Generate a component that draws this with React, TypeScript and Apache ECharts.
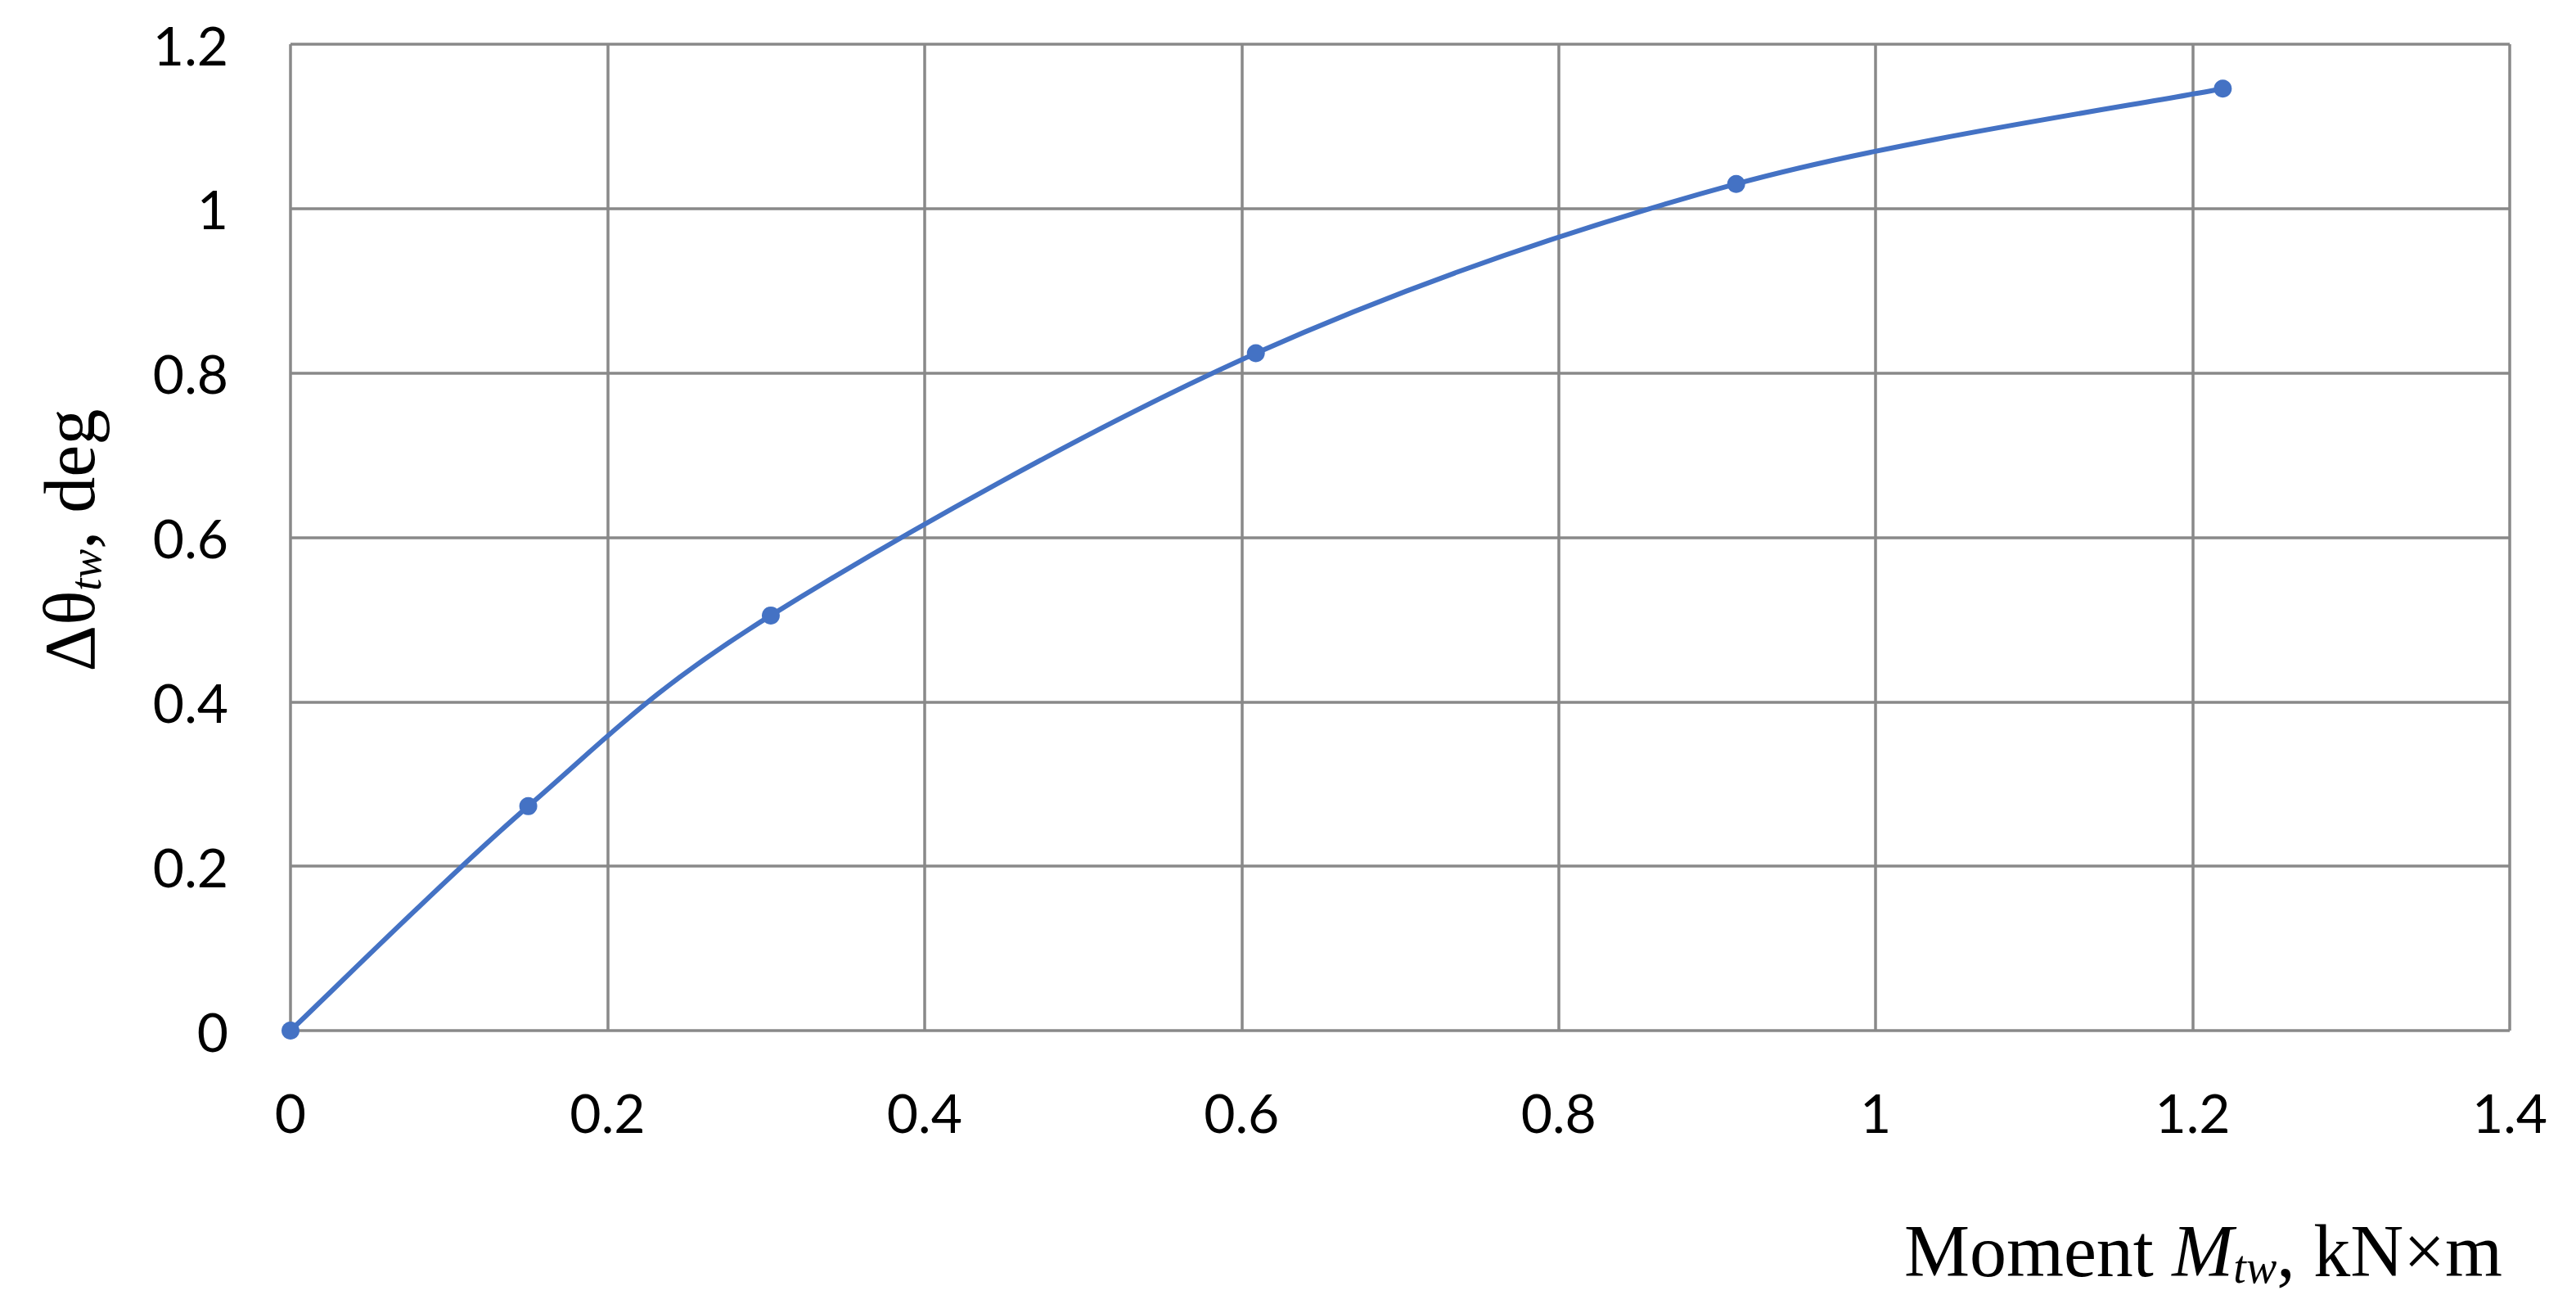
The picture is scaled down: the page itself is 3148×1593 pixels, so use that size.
import React, { useEffect, useRef } from "react";
import * as echarts from "echarts";

const momentValues = [0, 0.15, 0.303, 0.609, 0.912, 1.219];
const angleValues = [0, 0.273, 0.505, 0.824, 1.03, 1.146];
const xTicks = { min: 0, max: 1.4, interval: 0.2 };
const yTicks = { min: 0, max: 1.2, interval: 0.2 };

const LINE_COLOR = "#4472C4";

export default function App() {
  const ref = useRef<HTMLDivElement>(null);
  useEffect(() => {
    if (!ref.current) return;
    const chart = echarts.init(ref.current, null, { renderer: "svg" });
    const data = momentValues.map((x, i) => [x, angleValues[i]]);
    const n = data.length;
    const grid = "#898989";

    const renderSegment = (params: any, api: any) => {
      const i = params.dataIndex;
      if (i >= n - 1) return null;
      const p = (k: number) => api.coord(data[Math.max(0, Math.min(n - 1, k))]);
      const p0 = p(i - 1);
      const p1 = p(i);
      const p2 = p(i + 1);
      const p3 = p(i + 2);
      const t = 1 / 6;
      return {
        type: "bezierCurve",
        shape: {
          x1: p1[0],
          y1: p1[1],
          x2: p2[0],
          y2: p2[1],
          cpx1: p1[0] + (p2[0] - p0[0]) * t,
          cpy1: p1[1] + (p2[1] - p0[1]) * t,
          cpx2: p2[0] - (p3[0] - p1[0]) * t,
          cpy2: p2[1] - (p3[1] - p1[1]) * t,
        },
        style: { stroke: LINE_COLOR, lineWidth: 6, fill: null },
      };
    };

    chart.setOption({
      animation: false,
      backgroundColor: "#ffffff",
      grid: { left: 355, right: 81, top: 54, bottom: 334 },
      xAxis: {
        type: "value",
        min: xTicks.min,
        max: xTicks.max,
        interval: xTicks.interval,
        axisLine: { show: false },
        axisTick: { show: false },
        splitLine: { show: true, showMinLine: true, showMaxLine: true, lineStyle: { color: grid, width: 3.5 } },
        axisLabel: {
          margin: 66,
          fontFamily: "Lato",
          fontSize: 66,
          color: "#000",
          formatter: (v: number) => String(Math.round(v * 10) / 10),
        },
      },
      yAxis: {
        type: "value",
        min: yTicks.min,
        max: yTicks.max,
        interval: yTicks.interval,
        axisLine: { show: false },
        axisTick: { show: false },
        splitLine: { show: true, showMinLine: true, showMaxLine: true, lineStyle: { color: grid, width: 3.5 } },
        axisLabel: {
          margin: 76,
          fontFamily: "Lato",
          fontSize: 66,
          color: "#000",
          formatter: (v: number) => String(Math.round(v * 10) / 10),
        },
      },
      series: [
        {
          type: "custom",
          data,
          encode: { x: 0, y: 1 },
          renderItem: renderSegment,
          z: 4,
        },
        {
          type: "scatter",
          data,
          symbol: "circle",
          symbolSize: 22,
          itemStyle: { color: LINE_COLOR, opacity: 1 },
          z: 5,
        },
      ],
      graphic: [
        {
          type: "text",
          right: 90,
          top: 1480,
          style: {
            text: "{a|Moment }{b|M}{c|tw}{a|, kN×m}",
            fill: "#000",
            rich: {
              a: { fontFamily: "Liberation Serif", fontSize: 90, lineHeight: 100, fill: "#000" },
              b: { fontFamily: "Liberation Serif", fontSize: 90, fontStyle: "italic", lineHeight: 100, fill: "#000" },
              c: { fontFamily: "Liberation Serif", fontSize: 56, fontStyle: "italic", lineHeight: 56, padding: [40, 0, 0, 0], fill: "#000" },
            },
          },
        },
        {
          type: "text",
          x: 85,
          y: 660,
          rotation: Math.PI / 2,
          style: {
            text: "{a|Δθ}{c|tw}{a|, deg}",
            align: "center",
            verticalAlign: "middle",
            fill: "#000",
            rich: {
              a: { fontFamily: "Liberation Serif", fontSize: 88, lineHeight: 100, fill: "#000" },
              c: { fontFamily: "Liberation Serif", fontSize: 54, fontStyle: "italic", lineHeight: 54, padding: [40, 0, 0, 0], fill: "#000" },
            },
          },
        },
      ],
    });
    return () => chart.dispose();
  }, []);
  return (
    <div
      ref={ref}
      style={{ position: "fixed", left: 0, top: 0, width: 3148, height: 1593, background: "#fff" }}
    />
  );
}
